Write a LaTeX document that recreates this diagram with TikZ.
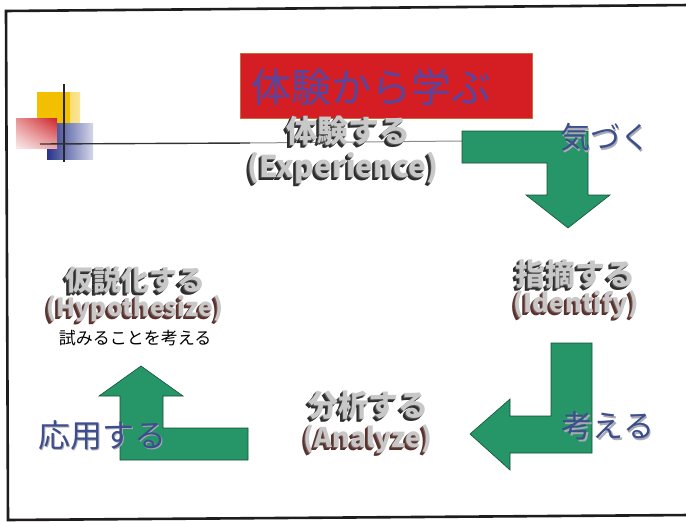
\documentclass[tikz,border=0pt]{standalone}
\usepackage{fontspec}
\newfontfamily\jp{Noto Sans CJK JP}
\usetikzlibrary{shadings}
\definecolor{frameblk}{RGB}{30,28,28}
\definecolor{arrowgreen}{RGB}{38,150,104}
\definecolor{arrowedge}{RGB}{20,80,55}
\definecolor{titlered}{RGB}{212,30,36}
\definecolor{titleedge}{RGB}{200,110,60}
\definecolor{titleblue}{RGB}{86,70,160}
\definecolor{lblblue}{RGB}{60,78,140}
\definecolor{lblshadow}{RGB}{170,170,180}
\definecolor{extrude}{RGB}{45,45,45}
\definecolor{extrudered}{RGB}{90,50,45}
\definecolor{face}{RGB}{200,200,200}
\definecolor{logoyellow}{RGB}{242,192,0}
\definecolor{logored}{RGB}{205,35,40}
\definecolor{logoblue}{RGB}{40,52,140}
\newcommand\extr[3]{\leavevmode
  \rlap{\kern-3pt\raisebox{-3pt}{\textcolor{#1}{#3}}}%
  \rlap{\kern-2pt\raisebox{-2pt}{\textcolor{#1}{#3}}}%
  \rlap{\kern-1pt\raisebox{-1pt}{\textcolor{#1!80!white}{#3}}}%
  \textcolor{#2}{#3}}
\newcommand\shd[1]{\leavevmode
  \rlap{\kern1.8pt\raisebox{-1.8pt}{\textcolor{lblshadow}{#1}}}%
  \textcolor{lblblue}{#1}}
\tikzset{
  greenarrow/.style={fill=arrowgreen, draw=arrowedge, line width=0.6pt, line join=miter},
  threed/.style={inner sep=0pt, font=\jp\bfseries\fontsize{#1}{#1}\selectfont},
  label3d/.style={inner sep=0pt, font=\jp\fontsize{#1}{#1}\selectfont},
}
\begin{document}
\begin{tikzpicture}[x=1pt,y=-1pt]
\useasboundingbox (0,0) rectangle (686,522);
\fill[white] (0,0) rectangle (686,522);
% frame (three visible sides)
\draw[frameblk, line width=2.6pt] (690,5) -- (6,11) -- (8,520) -- (690,515);
% logo
\shade[left color=logoyellow, right color=logoyellow!40!white] (37,92) rectangle (80,123);
\fill[logoyellow] (37,92) rectangle (70,123);
\shade[left color=logoblue, right color=logoblue!20!white] (47,123) rectangle (93,159);
\shade[upper right=logored, upper left=logored!50!white, lower right=logored!40!white, lower left=logored!10!white] (16,118) rectangle (57,148);
\draw[black!85, line width=1.8pt] (64,84) -- (64,162);
\draw[black!80, line width=1.4pt] (40,144) -- (250,143);
\draw[black!45, line width=1pt] (250,143) -- (462,141);
% title
\node[fill=titlered, draw=titleedge, line width=0.6pt, minimum width=292pt, minimum height=65pt, inner sep=0pt] (title) at (386,85.5) {};
\node[label3d=40, text=titleblue] (titletext) at (371,87) {体験から学ぶ};
% green arrows
\draw[greenarrow] (462,131) -- (588,131) -- (588,195) -- (610,195) -- (568,228) -- (526,195) -- (547,195) -- (547,163) -- (462,163) -- cycle;
\draw[greenarrow] (551,343) -- (592,343) -- (592,453) -- (510,453) -- (510,470) -- (470,434) -- (510,399) -- (510,416) -- (551,416) -- cycle;
\draw[greenarrow] (248,428) -- (248,460) -- (120,460) -- (120,396) -- (99,396) -- (141,366) -- (183,396) -- (163,396) -- (163,428) -- cycle;
% stage texts
\node[threed=31] (exp) at (348,132) {\extr{extrude}{face}{体験する}};
\node[threed=30] (expen) at (343,169) {\extr{extrude}{face}{(Experience)}};
\node[threed=30] (idn) at (575,276) {\extr{extrude}{face}{指摘する}};
\node[threed=26] (idnen) at (576,306) {\extr{extrudered}{face}{(Identify)}};
\node[threed=30] (ana) at (368,407) {\extr{extrude}{face}{分析する}};
\node[threed=27] (anaen) at (368,441) {\extr{extrudered}{face}{(Analyze)}};
\node[threed=28] (hyp) at (135,281) {\extr{extrude}{face}{仮説化する}};
\node[threed=25] (hypen) at (135,310) {\extr{extrudered}{face}{(Hypothesize)}};
\node[label3d=17, text=black] (try) at (135,338) {試みることを考える};
% step labels
\node[label3d=30] (notice) at (605,138) {\shd{気づく}};
\node[label3d=31] (think) at (608,427) {\shd{考える}};
\node[label3d=32] (apply) at (102,436) {\shd{応用する}};
\end{tikzpicture}
\end{document}
